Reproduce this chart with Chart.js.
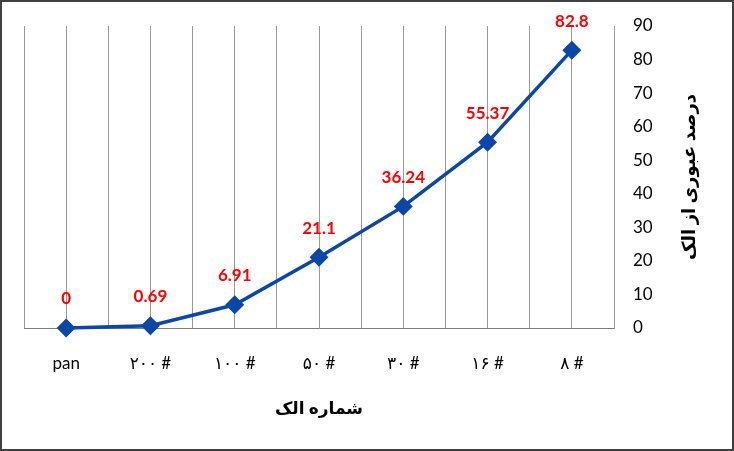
<!DOCTYPE html>
<html>
<head>
<meta charset="utf-8">
<script src="https://cdn.jsdelivr.net/npm/chart.js@4/dist/chart.umd.min.js"></script>
<style>
    html, body { margin: 0; padding: 0; background: #fff; }
    #wrap { width: 734px; height: 451px; position: relative; }
</style>
</head>
<body>
<div id="wrap"><canvas id="sieveChart"></canvas></div>
<script>
// Sieve numbers (x categories) and passing percentage
const sieveLabels = ['pan', '۲۰۰ #', '۱۰۰ #', '۵۰ #', '۳۰ #', '۱۶ #', '۸ #'];
const passingPercent = [0, 0.69, 6.91, 21.1, 36.24, 55.37, 82.8];
const yTicks = [0, 10, 20, 30, 40, 50, 60, 70, 80, 90];
const yTitle = 'درصد عبوری از الک';

const FONT = "Lato, 'DejaVu Sans', sans-serif";

// White background plus the dark frame round the picture
const framePlugin = {
    id: 'frame',
    beforeDraw(chart) {
        const ctx = chart.ctx;
        ctx.save();
        ctx.fillStyle = '#ffffff';
        ctx.fillRect(0, 0, chart.width, chart.height);
        ctx.strokeStyle = '#404040';
        ctx.lineWidth = 2;
        ctx.strokeRect(1, 1, chart.width - 2, chart.height - 2);
        ctx.restore();
    }
};

// Red value labels above each point, and the y title (reads top-down, turned left)
const valueLabels = {
    id: 'valueLabels',
    afterDatasetsDraw(chart) {
        const ctx = chart.ctx;
        const meta = chart.getDatasetMeta(0);
        ctx.save();
        ctx.fillStyle = '#ff0000';
        ctx.font = 'bold 17px ' + FONT;
        ctx.textAlign = 'center';
        ctx.textBaseline = 'middle';
        meta.data.forEach((pt, i) => {
            ctx.fillText(String(passingPercent[i]), pt.x, pt.y - 29);
        });
        ctx.restore();

        const area = chart.chartArea;
        ctx.save();
        ctx.translate(689, (area.top + area.bottom) / 2);
        ctx.rotate(-Math.PI / 2);
        ctx.fillStyle = '#000';
        ctx.font = 'bold 18px ' + FONT;
        ctx.textAlign = 'center';
        ctx.textBaseline = 'middle';
        ctx.fillText(yTitle, 0, 0);
        ctx.restore();
    }
};

new Chart(document.getElementById('sieveChart'), {
    type: 'line',
    data: {
        labels: sieveLabels,
        datasets: [{
            data: passingPercent,
            borderColor: '#0a47a6',
            backgroundColor: '#0a47a6',
            borderWidth: 3.5,
            pointStyle: 'rectRot',
            pointRadius: 7,
            pointHoverRadius: 7,
            tension: 0,
            fill: false,
            clip: false
        }]
    },
    options: {
        responsive: true,
        maintainAspectRatio: false,
        animation: false,
        layout: {
            padding: { left: 24, top: 26, right: 0, bottom: 0 }
        },
        plugins: {
            legend: { display: false },
            tooltip: { enabled: false }
        },
        scales: {
            x: {
                type: 'category',
                position: 'bottom',
                offset: true,
                grid: { offset: false, color: '#999999', lineWidth: 1, drawTicks: false },
                border: { color: '#7f7f7f', width: 1 },
                ticks: {
                    color: '#000',
                    font: { family: FONT, size: 17 },
                    padding: 25,
                    maxRotation: 0,
                    autoSkip: false
                },
                title: {
                    display: true,
                    text: 'شماره الک',
                    color: '#000',
                    font: { family: FONT, size: 17, weight: 'bold' },
                    padding: { top: 0, bottom: 32 }
                },
                afterFit(scale) {
                    scale.height = 123;
                    scale.paddingLeft = 0;
                    scale.paddingRight = 0;
                }
            },
            xEdges: {
                type: 'category',
                position: 'bottom',
                offset: true,
                grid: { offset: true, color: '#999999', lineWidth: 1, drawTicks: false },
                border: { display: false },
                ticks: { display: false },
                afterFit(scale) { scale.height = 0; }
            },
            y: {
                position: 'right',
                min: 0,
                max: 90,
                afterBuildTicks(scale) {
                    scale.ticks = yTicks.map(v => ({ value: v }));
                },
                grid: { display: false, drawTicks: false },
                border: { color: '#999999', width: 1 },
                ticks: {
                    color: '#000',
                    font: { family: FONT, size: 17 },
                    padding: 19
                },
                afterFit(scale) {
                    scale.width = 120;
                    scale.paddingTop = 0;
                    scale.paddingBottom = 0;
                }
            }
        }
    },
    plugins: [framePlugin, valueLabels]
});
</script>
</body>
</html>
